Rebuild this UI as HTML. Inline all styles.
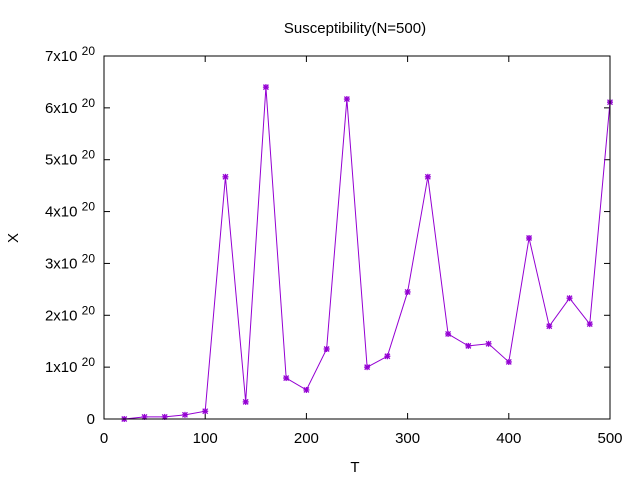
<!DOCTYPE html>
<html><head><meta charset="utf-8"><style>
body{margin:0;background:#fff;}
svg{display:block;font-family:"Liberation Sans",sans-serif;}
</style></head><body>
<svg id="chart" width="640" height="480" xmlns="http://www.w3.org/2000/svg">
<rect x="0" y="0" width="640" height="480" fill="#fff"/>
<text x="355" y="33" font-size="15" text-anchor="middle">Susceptibility(N=500)</text>
<text x="355" y="472" font-size="15" text-anchor="middle">T</text>
<text transform="translate(18,238) rotate(-90)" font-size="15" text-anchor="middle">X</text>
<g id="axes"></g>
<g id="series"></g>
<rect x="104" y="56" width="506" height="363" fill="none" stroke="#000" stroke-width="1"/>
</svg>
<script>
const temps=[20,40,60,80,100,120,140,160,180,200,220,240,260,280,300,320,340,360,380,400,420,440,460,480,500];
const chiValues=[0,0.04,0.04,0.08,0.15,4.67,0.33,6.40,0.79,0.56,1.35,6.17,1.00,1.21,2.45,4.67,1.64,1.41,1.45,1.10,3.49,1.79,2.33,1.83,6.11];
const xTicks=[0,100,200,300,400,500];
const yTicks=[0,1,2,3,4,5,6,7];
const NS="http://www.w3.org/2000/svg";
const X0=104,X1=610,Y0=419,Y1=56;
const xs=v=>X0+(v-0)/(500-0)*(X1-X0);
const ys=v=>Y0-(v-0)/(7-0)*(Y0-Y1);
const axes=document.getElementById('axes'),series=document.getElementById('series');
function mk(tag,attrs,parent){const e=document.createElementNS(NS,tag);for(const k in attrs)e.setAttribute(k,attrs[k]);parent.appendChild(e);return e;}
xTicks.forEach(t=>{
  const x=xs(t);
  const l1=mk('line',{x1:x,y1:Y0,x2:x,y2:Y0-6,stroke:'#000'},axes);
  
  
  const l2=mk('line',{x1:x,y1:Y1,x2:x,y2:Y1+6,stroke:'#000'},axes);
  
  
  const tx=mk('text',{x:x,y:443,'font-size':15,'text-anchor':'middle'},axes);
  tx.textContent=t;
  
  
});
yTicks.forEach(t=>{
  const y=ys(t);
  const l1=mk('line',{x1:X0,y1:y,x2:X0+6,y2:y,stroke:'#000'},axes);
  
  
  const l2=mk('line',{x1:X1,y1:y,x2:X1-6,y2:y,stroke:'#000'},axes);
  
  
  const tx=mk('text',{x:95,y:y+5,'font-size':15,'text-anchor':'end'},axes);
  if(t===0){tx.textContent='0';}
  else{
    tx.textContent=t+'x10 ';
    const s=mk('tspan',{dy:-6,'font-size':12},tx);s.textContent='20';
  }
  
  
});
const pts=temps.map((t,i)=>xs(t)+','+ys(chiValues[i])).join(' ');
const line=mk('polyline',{points:pts,fill:'none',stroke:'#9400d3','stroke-width':1},series);


temps.forEach((t,i)=>{
  const x=xs(t),y=ys(chiValues[i]);
  const g=mk('g',{stroke:'#9400d3','stroke-width':1.3},series);
  
  
  mk('line',{x1:x-3,y1:y,x2:x+3,y2:y},g);
  mk('line',{x1:x,y1:y-3,x2:x,y2:y+3},g);
  mk('line',{x1:x-2.5,y1:y-2.5,x2:x+2.5,y2:y+2.5},g);
  mk('line',{x1:x-2.5,y1:y+2.5,x2:x+2.5,y2:y-2.5},g);
});
</script>
</body></html>
